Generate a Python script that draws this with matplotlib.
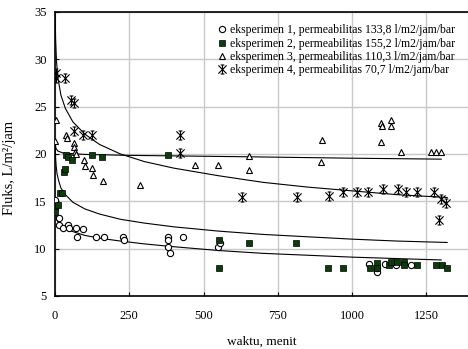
import numpy as np
import matplotlib
matplotlib.use("Agg")
import matplotlib.pyplot as plt
from matplotlib.path import Path

plt.rcParams['font.family'] = ['Liberation Serif', 'DejaVu Serif']

# eksperimen 1 (bulat kosong)
x1 = [0, 14, 14, 27, 44, 47, 71, 74, 94, 138, 165, 229, 232, 381, 381, 380, 387, 432, 550, 555,
      1057, 1083, 1085, 1111, 1148, 1198]
y1 = [15.1, 13.2, 12.5, 12.2, 12.5, 12.2, 12.2, 11.2, 12.1, 11.2, 11.2, 11.2, 10.9, 11.2, 10.9, 10.2, 9.5, 11.2, 10.2, 10.6,
      8.4, 7.5, 8.0, 8.4, 8.3, 8.3]

# eksperimen 2 (kotak hijau)
x2 = [0, 0, 10, 17, 24, 30, 34, 37, 44, 57, 124, 157, 381, 553, 553, 653, 811, 918, 969,
      1060, 1083, 1083, 1124, 1131, 1151, 1174, 1174, 1218, 1282, 1302, 1319]
y2 = [14.4, 13.9, 14.6, 15.9, 15.9, 18.1, 18.4, 19.9, 19.7, 19.4, 19.9, 19.7, 19.9, 10.9, 8.0, 10.6, 10.6, 8.0, 8.0,
      8.0, 8.5, 8.0, 8.3, 8.6, 8.6, 8.6, 8.3, 8.3, 8.3, 8.3, 8.0]

# eksperimen 3 (segitiga)
x3 = [3, 0, 37, 40, 64, 64, 67, 71, 98, 101, 124, 128, 161, 286, 471, 549, 653, 653, 898, 895,
      1097, 1100, 1131, 1131, 1097, 1164, 1265, 1282, 1299]
y3 = [23.6, 21.4, 22.0, 21.7, 21.2, 20.7, 20.2, 20.0, 19.4, 18.7, 18.5, 17.8, 17.1, 16.7, 18.8, 18.8, 19.8, 18.3, 21.5, 19.2,
      23.3, 22.9, 23.6, 22.9, 21.3, 20.2, 20.2, 20.2, 20.2]

# eksperimen 4 (bintang)
x4 = [3, 3, 33, 53, 64, 64, 95, 124, 420, 420, 630, 815, 922, 969, 1016, 1053, 1104, 1154, 1181, 1218, 1275,
      1315, 1292, 1300]
y4 = [28.0, 28.6, 28.0, 25.7, 25.4, 22.4, 22.0, 22.0, 22.0, 20.1, 15.5, 15.5, 15.6, 16.0, 16.0, 16.0, 16.3, 16.3, 16.0, 16.0, 16.0,
      14.8, 13.0, 15.2]

# garis tren tiap eksperimen
t1 = [0.5, 1, 2, 4, 7, 12, 20, 35, 60, 100, 150, 220, 300, 400, 550, 700, 850, 1000, 1150, 1300]
f1 = [15.0, 14.6, 14.0, 13.4, 13.0, 12.7, 12.4, 12.1, 11.8, 11.4, 11.1, 10.8, 10.5, 10.2, 9.8, 9.5, 9.3, 9.1, 8.95, 8.8]
t2 = [1, 2, 4, 7, 12, 20, 35, 60, 100, 150, 220, 300, 400, 550, 700, 850, 1000, 1150, 1320]
f2 = [20.6, 19.6, 18.7, 17.9, 17.2, 16.4, 15.7, 14.9, 14.2, 13.65, 13.1, 12.7, 12.3, 11.85, 11.5, 11.25, 11.0, 10.8, 10.65]
t3 = [0, 1, 3, 10, 27, 100, 250, 650, 1000, 1300]
f3 = [21.4, 21.0, 20.6, 20.3, 20.1, 19.95, 19.85, 19.7, 19.55, 19.45]
t4 = [0.6, 1, 2, 5, 10, 20, 35, 60, 100, 150, 220, 300, 400, 550, 700, 850, 1000, 1150, 1320]
f4 = [35.3, 33.9, 32.2, 29.8, 28.0, 26.2, 24.8, 23.4, 22.1, 21.0, 20.0, 19.2, 18.5, 17.7, 17.0, 16.5, 16.1, 15.7, 15.4]

labels = ['eksperimen 1, permeabilitas 133,8 l/m2/jam/bar',
          'eksperimen 2, permeabilitas 155,2 l/m2/jam/bar',
          'eksperimen 3, permeabilitas 110,3 l/m2/jam/bar',
          'eksperimen 4, permeabilitas 70,7 l/m2/jam/bar']

# bintang ala excel: X + garis tegak dengan tutup
star = Path([(-1, -1), (1, 1), (-1, 1), (1, -1), (0, -1.1), (0, 1.1),
             (-0.45, 1.1), (0.45, 1.1), (-0.45, -1.1), (0.45, -1.1)],
            [Path.MOVETO, Path.LINETO] * 5)

fig = plt.figure(figsize=(4.68, 3.49), dpi=100)
ax = fig.add_axes([0.1175, 0.152, 0.8825, 0.8138])

for t, f in [(t1, f1), (t2, f2), (t3, f3), (t4, f4)]:
    ax.plot(t, f, color='black', lw=0.8, zorder=2)

ax.plot(x1, y1, 'o', ms=4.5, mfc='white', mec='black', mew=0.8, ls='none', label=labels[0], zorder=3)
ax.plot(x2, y2, 's', ms=4.5, mfc='#0b3d0b', mec='black', mew=0.5, ls='none', label=labels[1], zorder=3)
ax.plot(x3, y3, '^', ms=5, mfc='white', mec='black', mew=0.8, ls='none', label=labels[2], zorder=3)
ax.plot(x4, y4, marker=star, ms=6.5, mfc='none', mec='black', mew=0.8, ls='none', label=labels[3], zorder=3)

ax.set_xlim(0, 1390)
ax.set_ylim(5, 35)
ax.set_xticks([0, 250, 500, 750, 1000, 1250])
ax.set_yticks([5, 10, 15, 20, 25, 30, 35])
ax.grid(True, color='#c8c8c8', lw=1)
ax.set_axisbelow(True)
ax.spines['right'].set_visible(False)
for s in ['left', 'bottom', 'top']:
    ax.spines[s].set_linewidth(1.2)
ax.tick_params(direction='in', length=3, labelsize=9)
ax.tick_params(axis='x', pad=10)
ax.tick_params(axis='y', pad=6)

ax.set_xlabel('waktu, menit', fontsize=9.5, labelpad=10)
ax.set_ylabel('Fluks, L/m²/jam', fontsize=10.5, labelpad=10)
ax.yaxis.set_label_coords(-0.095, 0.45)

ax.legend(loc='upper right', bbox_to_anchor=(0.99, 0.985), frameon=False, fontsize=8.5,
          handlelength=0.6, handletextpad=0.4, labelspacing=0.1, borderpad=0.2)

fig.savefig('out.png', dpi=100)
